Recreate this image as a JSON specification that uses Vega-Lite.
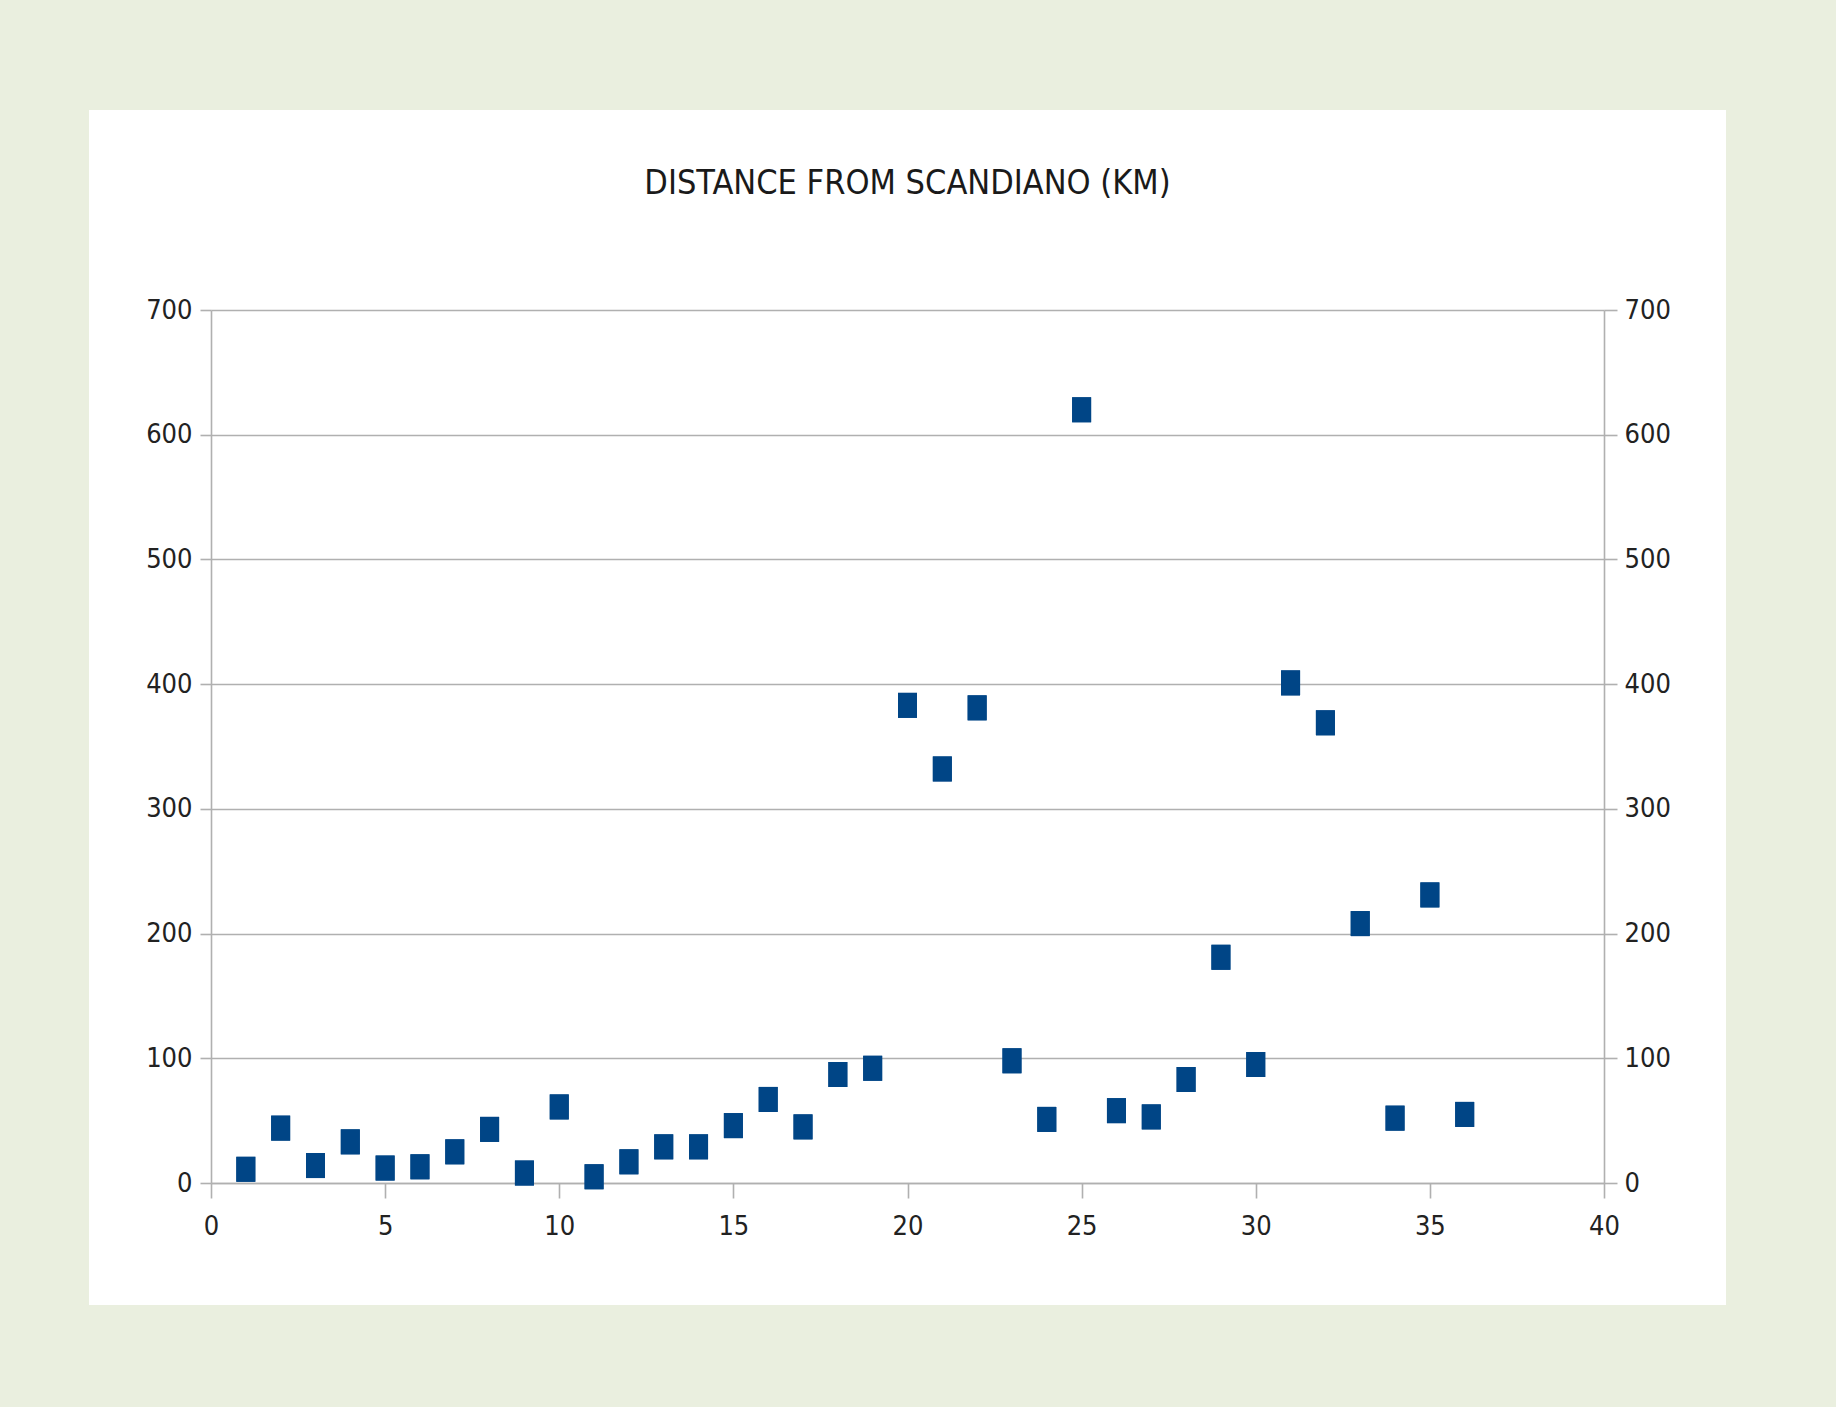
{
  "$schema": "https://vega.github.io/schema/vega-lite/v6.json",
  "width": 1393,
  "height": 951,
  "autosize": "none",
  "padding": {"left": 211, "top": 232, "right": 232, "bottom": 224},
  "background": "#EAEFDF",
  "title": {
    "text": "DISTANCE FROM SCANDIANO (KM)",
    "anchor": "middle",
    "font": "DejaVu Sans Condensed, DejaVu Sans, sans-serif",
    "fontSize": 34,
    "fontWeight": "normal",
    "color": "#1a1a1a",
    "baseline": "alphabetic",
    "offset": 4
  },
  "data": {
    "values": [
      {"n": 1, "km": 11}, {"n": 2, "km": 44}, {"n": 3, "km": 14}, {"n": 4, "km": 33},
      {"n": 5, "km": 12}, {"n": 6, "km": 13}, {"n": 7, "km": 25}, {"n": 8, "km": 43},
      {"n": 9, "km": 8}, {"n": 10, "km": 61}, {"n": 11, "km": 5}, {"n": 12, "km": 17},
      {"n": 13, "km": 29}, {"n": 14, "km": 29}, {"n": 15, "km": 46}, {"n": 16, "km": 67},
      {"n": 17, "km": 45}, {"n": 18, "km": 87}, {"n": 19, "km": 92}, {"n": 20, "km": 383},
      {"n": 21, "km": 332}, {"n": 22, "km": 381}, {"n": 23, "km": 98}, {"n": 24, "km": 51},
      {"n": 25, "km": 620}, {"n": 26, "km": 58}, {"n": 27, "km": 53}, {"n": 28, "km": 83},
      {"n": 29, "km": 181}, {"n": 30, "km": 95}, {"n": 31, "km": 401}, {"n": 32, "km": 369},
      {"n": 33, "km": 208}, {"n": 34, "km": 52}, {"n": 35, "km": 231}, {"n": 36, "km": 55}
    ]
  },
  "layer": [
    {
      "mark": {"type": "point", "shape": "M-0.76,-1H0.76V1H-0.76Z", "filled": true, "size": 625, "color": "#004586", "opacity": 1, "strokeWidth": 0},
      "encoding": {
        "x": {
          "field": "n", "type": "quantitative",
          "scale": {"domain": [0, 40], "nice": false, "zero": false},
          "axis": {"values": [0, 5, 10, 15, 20, 25, 30, 35, 40], "tickSize": 15, "labelPadding": 15, "grid": false, "title": null, "labelFlush": false, "labelOverlap": false}
        },
        "y": {
          "field": "km", "type": "quantitative",
          "scale": {"domain": [0, 700], "range": [951, 78], "nice": false},
          "axis": {"orient": "left", "values": [0, 100, 200, 300, 400, 500, 600, 700], "tickSize": 11, "labelPadding": 8, "grid": true, "title": null, "labelFlush": false, "labelOverlap": false}
        }
      }
    },
    {
      "mark": {"type": "point", "shape": "M-0.76,-1H0.76V1H-0.76Z", "filled": true, "size": 625, "color": "#004586", "opacity": 1, "strokeWidth": 0},
      "encoding": {
        "x": {
          "field": "n", "type": "quantitative",
          "scale": {"domain": [0, 40], "nice": false, "zero": false},
          "axis": {"values": [0, 5, 10, 15, 20, 25, 30, 35, 40], "tickSize": 15, "labelPadding": 15, "grid": false, "title": null, "labelFlush": false, "labelOverlap": false}
        },
        "y": {
          "field": "km", "type": "quantitative",
          "scale": {"domain": [0, 700], "range": [951, 78], "nice": false},
          "axis": {"orient": "right", "values": [0, 100, 200, 300, 400, 500, 600, 700], "tickSize": 13, "labelPadding": 7, "grid": false, "title": null, "labelFlush": false, "labelOverlap": false}
        }
      }
    }
  ],
  "resolve": {"axis": {"y": "independent"}},
  "config": {
    "view": {"fill": "white", "stroke": "white", "strokeWidth": 244},
    "axis": {
      "domainColor": "#b0b0b0",
      "tickColor": "#b0b0b0",
      "gridColor": "#b0b0b0",
      "domainWidth": 1.6,
      "tickWidth": 1.6,
      "gridWidth": 1.6,
      "labelFont": "DejaVu Sans Condensed, DejaVu Sans, sans-serif",
      "labelFontSize": 27,
      "labelColor": "#222222"
    }
  }
}
